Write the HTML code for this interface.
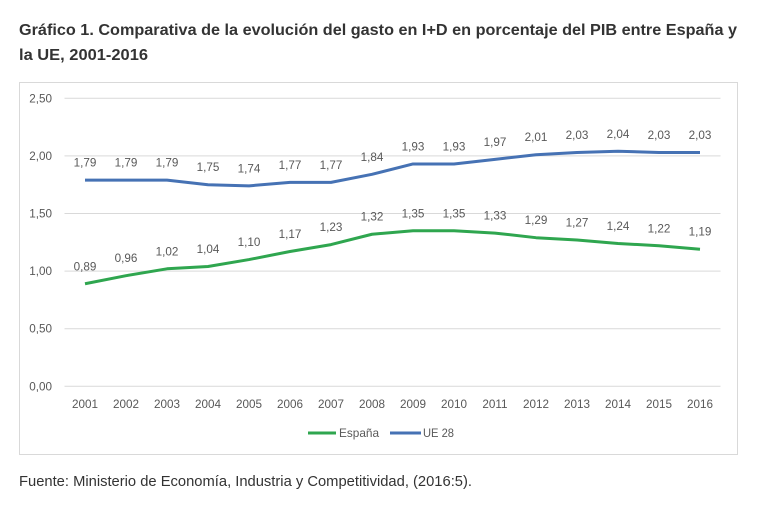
<!DOCTYPE html>
<html lang="es">
<head>
<meta charset="utf-8">
<title>Gráfico 1</title>
<style>
html,body{margin:0;padding:0;background:#fff;width:765px;height:525px;overflow:hidden}
svg{display:block}
text{font-family:"Liberation Sans",sans-serif}
.tick{font-size:11.7px;fill:#595959}
.lab{font-size:11.7px;fill:#595959;text-anchor:middle}
</style>
</head>
<body>
<svg id="chart" width="765" height="525" viewBox="0 0 765 525" xmlns="http://www.w3.org/2000/svg">
  <text x="19" y="35" font-size="16" font-weight="700" fill="#333" textLength="718" lengthAdjust="spacingAndGlyphs">Gráfico 1. Comparativa de la evolución del gasto en I+D en porcentaje del PIB entre España y</text>
  <text x="19" y="60" font-size="16" font-weight="700" fill="#333" textLength="129" lengthAdjust="spacingAndGlyphs">la UE, 2001-2016</text>
  <rect x="19.5" y="82.5" width="718" height="372" fill="#fff" stroke="#d9d9d9" stroke-width="1"/>
  <g id="grid"></g>
  <g id="xaxis"></g>
  <g id="series"></g>
  <g id="labels"></g>
  <g>
    <line x1="308" x2="336" y1="433" y2="433" stroke="#2fa64f" stroke-width="3"/>
    <text class="tick" x="339" y="437" textLength="40" lengthAdjust="spacingAndGlyphs">España</text>
    <line x1="390" x2="421" y1="433" y2="433" stroke="#4672b4" stroke-width="3"/>
    <text class="tick" x="423" y="437" textLength="31" lengthAdjust="spacingAndGlyphs">UE 28</text>
  </g>
  <text x="19" y="486" font-size="14.5" fill="#333" textLength="453" lengthAdjust="spacingAndGlyphs">Fuente: Ministerio de Economía, Industria y Competitividad, (2016:5).</text>
</svg>
<script>
const categories = ["2001","2002","2003","2004","2005","2006","2007","2008","2009","2010","2011","2012","2013","2014","2015","2016"];
const espana = [0.89,0.96,1.02,1.04,1.10,1.17,1.23,1.32,1.35,1.35,1.33,1.29,1.27,1.24,1.22,1.19];
const ue28 = [1.79,1.79,1.79,1.75,1.74,1.77,1.77,1.84,1.93,1.93,1.97,2.01,2.03,2.04,2.03,2.03];
const yTicks = [0,0.5,1,1.5,2,2.5];

const NS = "http://www.w3.org/2000/svg";
const plotLeft = 64.5, plotRight = 720.5, plotBottom = 386.3, plotTop = 98.3, yMax = 2.5;
function xPos(i){ return plotLeft + (i + 0.5) * (plotRight - plotLeft) / categories.length; }
function yPos(v){ return plotBottom - (v / yMax) * (plotBottom - plotTop); }
function fmt(v){ return v.toFixed(2).replace(".", ","); }
function make(tag, parent){ const el = document.createElementNS(NS, tag); document.getElementById(parent).appendChild(el); return el; }

yTicks.forEach(function(t){
  const line = make("line", "grid");
  
  
  line.setAttribute("x1", plotLeft);
  line.setAttribute("x2", plotRight);
  line.setAttribute("y1", yPos(t));
  line.setAttribute("y2", yPos(t));
  line.setAttribute("stroke", "#d9d9d9");
  line.setAttribute("stroke-width", "1");
  const lab = make("text", "grid");
  
  
  lab.setAttribute("class", "tick");
  lab.setAttribute("x", 52);
  lab.setAttribute("y", yPos(t) + 4);
  lab.setAttribute("text-anchor", "end");
  lab.textContent = fmt(t);
});

categories.forEach(function(c, i){
  const lab = make("text", "xaxis");
  
  
  lab.setAttribute("class", "lab");
  lab.setAttribute("x", xPos(i));
  lab.setAttribute("y", 408);
  lab.textContent = c;
});

function linePoints(vals){
  return vals.map(function(v, i){ return xPos(i) + "," + yPos(v); }).join(" ");
}

const greenLine = make("polyline", "series");


greenLine.setAttribute("points", linePoints(espana));
greenLine.setAttribute("fill", "none");
greenLine.setAttribute("stroke", "#2fa64f");
greenLine.setAttribute("stroke-width", "3");
greenLine.setAttribute("stroke-linejoin", "round");

const blueLine = make("polyline", "series");


blueLine.setAttribute("points", linePoints(ue28));
blueLine.setAttribute("fill", "none");
blueLine.setAttribute("stroke", "#4672b4");
blueLine.setAttribute("stroke-width", "3");
blueLine.setAttribute("stroke-linejoin", "round");

espana.forEach(function(v, i){
  const lab = make("text", "labels");
  
  
  lab.setAttribute("class", "lab");
  lab.setAttribute("x", xPos(i));
  lab.setAttribute("y", yPos(v) - 13.5);
  lab.textContent = fmt(v);
});

ue28.forEach(function(v, i){
  const lab = make("text", "labels");
  
  
  lab.setAttribute("class", "lab");
  lab.setAttribute("x", xPos(i));
  lab.setAttribute("y", yPos(v) - 13.5);
  lab.textContent = fmt(v);
});
</script>
</body>
</html>
